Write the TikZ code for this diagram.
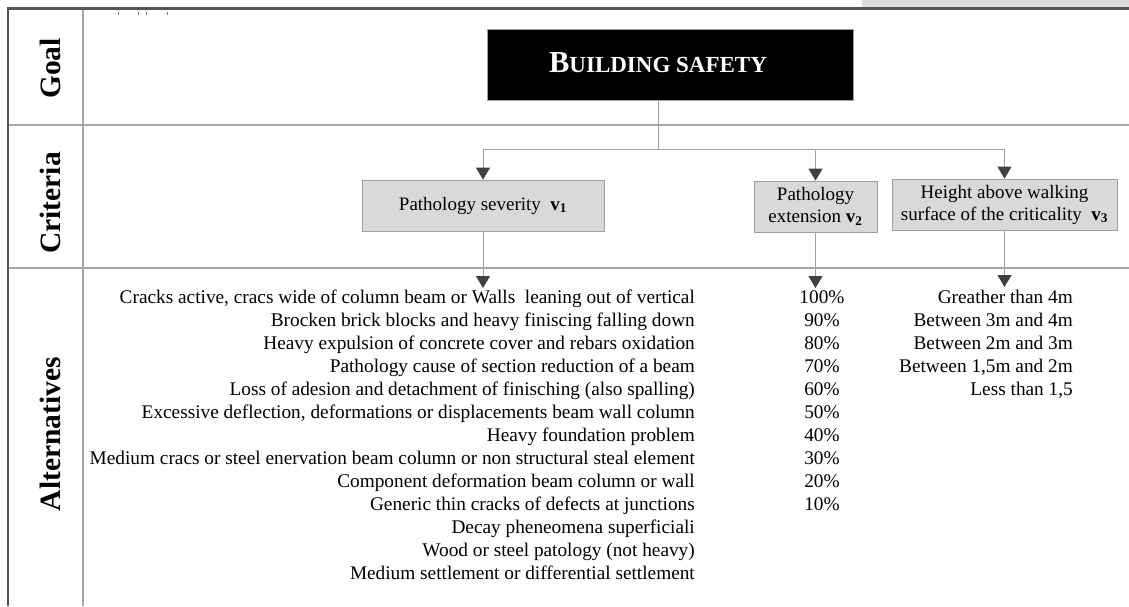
\documentclass[tikz,border=0pt]{standalone}
\usepackage{fontspec}
\setmainfont{Liberation Serif}
\usetikzlibrary{arrows.meta}
\definecolor{framec}{HTML}{555555}
\definecolor{gridc}{HTML}{A6A6A6}
\definecolor{linec}{HTML}{A0A0A0}
\definecolor{arrc}{HTML}{404040}
\definecolor{boxfill}{HTML}{D9D9D9}
\definecolor{topgray}{HTML}{DCDCDC}
\begin{document}
\begin{tikzpicture}[x=1pt,y=-1pt,
  body/.style={font=\fontsize{19.3}{23}\selectfont, inner sep=0pt},
  rowlabel/.style={rotate=90, anchor=base, inner sep=0pt, font=\fontsize{29.5}{32}\selectfont\bfseries},
  critbox/.style={draw=linec, line width=0.8pt, fill=boxfill, inner sep=0pt, align=center,
                  font=\fontsize{19}{22}\selectfont, minimum height=51pt},
  conn/.style={draw=linec, line width=1pt},
  arr/.style={conn, -{Triangle[width=14pt,length=12pt,color=arrc]}}
]
\useasboundingbox (0,0) rectangle (1129,606);
% top-right gray strip
\fill[topgray] (862,0) rectangle (1129,7);
% tiny ticks
\foreach \xx in {118,138,146,167} \draw[gray, line width=0.6pt] (\xx,12) -- (\xx,14.5);
% grid
\draw[gridc, line width=2pt] (8,124.5) -- (1129,124.5);
\draw[gridc, line width=2pt] (8,267.5) -- (1129,267.5);
\draw[gridc, line width=2pt] (83,9) -- (83,606);
% frame
\draw[framec, line width=2.5pt] (8,606) -- (8,8.5) -- (1129,8.5);

% row labels
\node[rowlabel] (lgoal) at (60,68.5) {Goal};
\node[rowlabel] (lcrit) at (60,203) {Criteria};
\node[rowlabel] (lalt) at (60,434) {Alternatives};

% goal box
\node[fill=black, draw=linec, line width=0.8pt, minimum width=366pt, minimum height=71pt, inner sep=0pt]
  (goal) at (670,64.5) {};
\node[anchor=base, text=white, inner sep=0pt, font=\bfseries] (goaltext) at (658,72)
  {{\fontsize{30.5}{32}\selectfont B}{\fontsize{23}{25}\selectfont UILDING SAFETY}};

% criteria boxes
\node[critbox, minimum width=242pt] (c1) at (483,205.5) {Pathology severity\ \ \textbf{v}\textsubscript{\textbf{1}}};
\node[critbox, minimum width=123pt] (c2) at (815.5,206.5) {Pathology\\extension \textbf{v}\textsubscript{\textbf{2}}};
\node[critbox, minimum width=225pt] (c3) at (1004.5,204.5) {Height above walking\\surface of the criticality\ \ \textbf{v}\textsubscript{\textbf{3}}};

% connectors goal -> criteria
\coordinate (j) at (658,149);
\draw[conn] (goal.south -| j) -- (j);
\draw[arr] (j) -| (c1.north);
\draw[arr] (j) -| (c2.north);
\draw[arr] (j) -| (c3.north);

% alternatives arrows
\coordinate (a1) at (483,288);
\coordinate (a2) at (815.5,288);
\coordinate (a3) at (1004.5,287);
\draw[arr] (c1.south) -- (a1);
\draw[arr] (c2.south) -- (a2);
\draw[arr] (c3.south) -- (a3);

% alternatives v1
\node[body, anchor=base east] (s1) at (695,303) {Cracks active, cracs wide of column beam or Walls\ \ leaning out of vertical};
\node[body, anchor=base east] (s2) at (695,326) {Brocken brick blocks and heavy finiscing falling down};
\node[body, anchor=base east] (s3) at (695,349) {Heavy expulsion of concrete cover and rebars oxidation};
\node[body, anchor=base east] (s4) at (695,372) {Pathology cause of section reduction of a beam};
\node[body, anchor=base east] (s5) at (695,395) {Loss of adesion and detachment of finisching (also spalling)};
\node[body, anchor=base east] (s6) at (695,418) {Excessive deflection, deformations or displacements beam wall column};
\node[body, anchor=base east] (s7) at (695,441) {Heavy foundation problem};
\node[body, anchor=base east] (s8) at (695,464) {Medium cracs or steel enervation beam column or non structural steal element};
\node[body, anchor=base east] (s9) at (695,487) {Component deformation beam column or wall};
\node[body, anchor=base east] (s10) at (695,510) {Generic thin cracks of defects at junctions};
\node[body, anchor=base east] (s11) at (695,533) {Decay pheneomena superficiali};
\node[body, anchor=base east] (s12) at (695,556) {Wood or steel patology (not heavy)};
\node[body, anchor=base east] (s13) at (695,579) {Medium settlement or differential settlement};

% alternatives v2
\node[body, anchor=base] (p1) at (822,303) {100\%};
\node[body, anchor=base] (p2) at (822,326) {90\%};
\node[body, anchor=base] (p3) at (822,349) {80\%};
\node[body, anchor=base] (p4) at (822,372) {70\%};
\node[body, anchor=base] (p5) at (822,395) {60\%};
\node[body, anchor=base] (p6) at (822,418) {50\%};
\node[body, anchor=base] (p7) at (822,441) {40\%};
\node[body, anchor=base] (p8) at (822,464) {30\%};
\node[body, anchor=base] (p9) at (822,487) {20\%};
\node[body, anchor=base] (p10) at (822,510) {10\%};

% alternatives v3
\node[body, anchor=base east] (h1) at (1073,303) {Greather than 4m};
\node[body, anchor=base east] (h2) at (1073,326) {Between 3m and 4m};
\node[body, anchor=base east] (h3) at (1073,349) {Between 2m and 3m};
\node[body, anchor=base east] (h4) at (1073,372) {Between 1,5m and 2m};
\node[body, anchor=base east] (h5) at (1073,395) {Less than 1,5};
\end{tikzpicture}
\end{document}
